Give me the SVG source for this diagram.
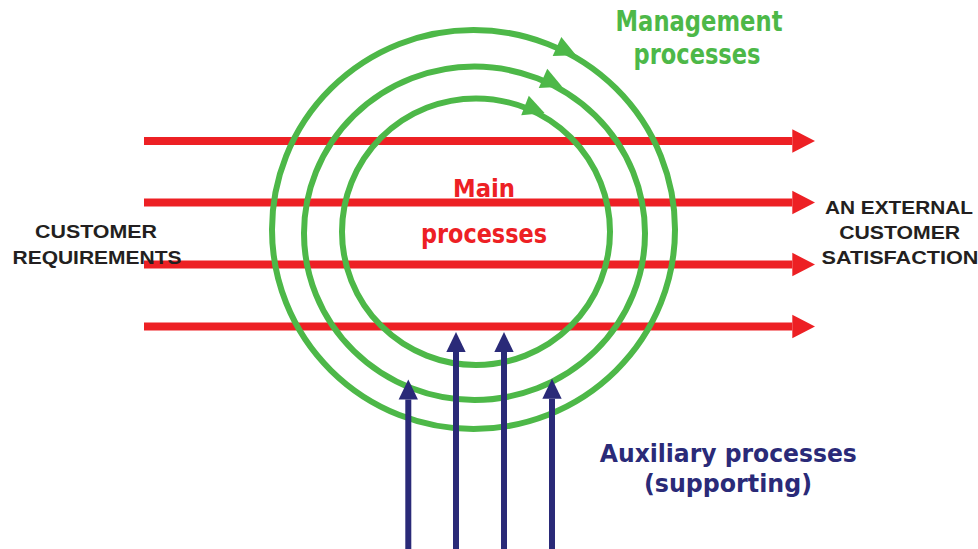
<svg xmlns="http://www.w3.org/2000/svg" xmlns:xlink="http://www.w3.org/1999/xlink" width="978" height="549" viewBox="0 0 978 549">
<style>
.ring{fill:none;stroke:#4db848;stroke-width:6}
.ghead{fill:#4db848}
.red{stroke:#ed2024;stroke-width:8;fill:none}
.blue{stroke:#2a2a78;stroke-width:6;fill:none}
.lbl{font-family:"Liberation Sans",Arial,sans-serif;font-weight:bold;font-size:19px;fill:#231f20;text-anchor:middle}
.big{font-family:"DejaVu Sans Condensed","DejaVu Sans",sans-serif;font-weight:bold;text-anchor:middle}
</style>
<defs>
<marker id="redHead" markerUnits="userSpaceOnUse" markerWidth="24" markerHeight="24" viewBox="0 -12 23 24" refX="0" refY="0" orient="auto" overflow="visible">
<path d="M0,-11.7 L22.7,0 L0,11.7 Z" fill="#ed2024"/>
</marker>
<marker id="blueHead" markerUnits="userSpaceOnUse" markerWidth="20" markerHeight="20" viewBox="0 -9 18 18" refX="0" refY="0" orient="auto" overflow="visible">
<path d="M0,-8.7 L18,0 L0,8.7 Z" fill="#2a2a78"/>
</marker>
<path id="greenHead" class="ghead" d="M0,-10.5 L21,0 L0,10.5 Z"/>
</defs>

<g id="connectors">
<line class="red" x1="144" y1="141" x2="792.3" y2="141" marker-end="url(#redHead)"/>
<line class="red" x1="144" y1="202.5" x2="792.3" y2="202.5" marker-end="url(#redHead)"/>
<line class="red" x1="144" y1="264.5" x2="792.3" y2="264.5" marker-end="url(#redHead)"/>
<line class="red" x1="144" y1="326.5" x2="792.3" y2="326.5" marker-end="url(#redHead)"/>
</g>

<g id="management-processes">
<ellipse class="ring" cx="473.5" cy="229.5" rx="201.5" ry="199.5"/>
<ellipse class="ring" cx="474.5" cy="233.3" rx="170.5" ry="166.7"/>
<ellipse class="ring" cx="476" cy="231.7" rx="134" ry="133.3"/>
<use xlink:href="#greenHead" transform="translate(557,46.5) rotate(24.3)"/>
<use xlink:href="#greenHead" transform="translate(543,78.3) rotate(23.9)"/>
<use xlink:href="#greenHead" transform="translate(525,105.5) rotate(21.2)"/>
<text class="big" x="699" y="30.5" font-size="28" fill="#4db848" textLength="167" lengthAdjust="spacingAndGlyphs">Management</text>
<text class="big" x="697" y="64" font-size="28" fill="#4db848" textLength="127" lengthAdjust="spacingAndGlyphs">processes</text>
</g>

<g id="auxiliary-arrows">
<line class="blue" x1="408.3" y1="549" x2="408.3" y2="399.5" marker-end="url(#blueHead)"/>
<line class="blue" x1="456" y1="549" x2="456" y2="352" marker-end="url(#blueHead)"/>
<line class="blue" x1="504" y1="549" x2="504" y2="352" marker-end="url(#blueHead)"/>
<line class="blue" x1="552" y1="549" x2="552" y2="398.7" marker-end="url(#blueHead)"/>
</g>

<g id="main-processes">
<text class="big" x="484" y="196.5" font-size="25" fill="#ed2024" textLength="62" lengthAdjust="spacingAndGlyphs">Main</text>
<text class="big" x="484" y="243" font-size="27" fill="#ed2024" textLength="126" lengthAdjust="spacingAndGlyphs">processes</text>
</g>

<g id="customer-requirements">
<text class="lbl" x="96" y="237.7" textLength="122" lengthAdjust="spacingAndGlyphs">CUSTOMER</text>
<text class="lbl" x="97" y="264" textLength="169" lengthAdjust="spacingAndGlyphs">REQUIREMENTS</text>
</g>

<g id="customer-satisfaction">
<text class="lbl" x="899" y="214.3" textLength="148" lengthAdjust="spacingAndGlyphs">AN EXTERNAL</text>
<text class="lbl" x="899.7" y="239.3" textLength="121" lengthAdjust="spacingAndGlyphs">CUSTOMER</text>
<text class="lbl" x="900" y="264" textLength="157" lengthAdjust="spacingAndGlyphs">SATISFACTION</text>
</g>

<g id="auxiliary-processes">
<text class="big" x="728.3" y="461.7" font-size="25.5" fill="#2a2a78" textLength="257" lengthAdjust="spacingAndGlyphs">Auxiliary processes</text>
<text class="big" x="728" y="491.7" font-size="25.5" fill="#2a2a78" textLength="168" lengthAdjust="spacingAndGlyphs">(supporting)</text>
</g>
</svg>
